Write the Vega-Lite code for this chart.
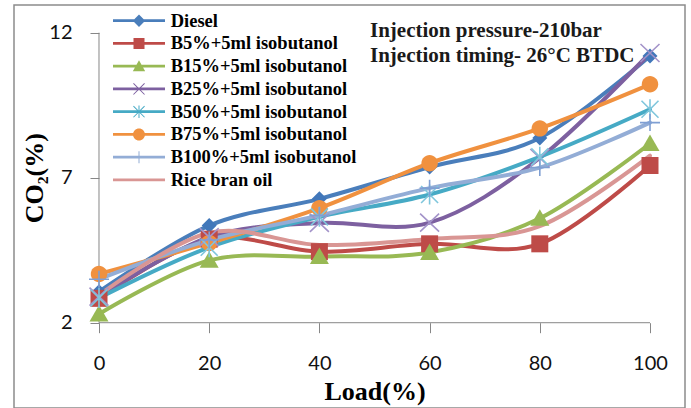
{
  "$schema": "https://vega.github.io/schema/vega-lite/v6.json",
  "width": 671,
  "height": 403,
  "autosize": {"type": "none"},
  "padding": {"left": 14, "top": 5, "right": 6, "bottom": 0},
  "background": "white",
  "config": {
    "view": {"stroke": "#8C8C8C", "strokeWidth": 1.5},
    "axis": {"grid": false}
  },
  "data": {
    "values": [
      {"series": "Diesel", "load": 0, "co2": 3.07},
      {"series": "Diesel", "load": 20, "co2": 5.35},
      {"series": "Diesel", "load": 40, "co2": 6.27},
      {"series": "Diesel", "load": 60, "co2": 7.37},
      {"series": "Diesel", "load": 80, "co2": 8.37},
      {"series": "Diesel", "load": 100, "co2": 11.2},
      {"series": "B5%+5ml isobutanol", "load": 0, "co2": 2.84},
      {"series": "B5%+5ml isobutanol", "load": 20, "co2": 4.88},
      {"series": "B5%+5ml isobutanol", "load": 40, "co2": 4.45},
      {"series": "B5%+5ml isobutanol", "load": 60, "co2": 4.72},
      {"series": "B5%+5ml isobutanol", "load": 80, "co2": 4.72},
      {"series": "B5%+5ml isobutanol", "load": 100, "co2": 7.42},
      {"series": "B15%+5ml isobutanol", "load": 0, "co2": 2.3},
      {"series": "B15%+5ml isobutanol", "load": 20, "co2": 4.15},
      {"series": "B15%+5ml isobutanol", "load": 40, "co2": 4.28},
      {"series": "B15%+5ml isobutanol", "load": 60, "co2": 4.42},
      {"series": "B15%+5ml isobutanol", "load": 80, "co2": 5.6},
      {"series": "B15%+5ml isobutanol", "load": 100, "co2": 8.18},
      {"series": "B25%+5ml isobutanol", "load": 0, "co2": 2.9},
      {"series": "B25%+5ml isobutanol", "load": 20, "co2": 4.95},
      {"series": "B25%+5ml isobutanol", "load": 40, "co2": 5.44},
      {"series": "B25%+5ml isobutanol", "load": 60, "co2": 5.45},
      {"series": "B25%+5ml isobutanol", "load": 80, "co2": 7.68},
      {"series": "B25%+5ml isobutanol", "load": 100, "co2": 11.3},
      {"series": "B50%+5ml isobutanol", "load": 0, "co2": 2.85},
      {"series": "B50%+5ml isobutanol", "load": 20, "co2": 4.6},
      {"series": "B50%+5ml isobutanol", "load": 40, "co2": 5.65},
      {"series": "B50%+5ml isobutanol", "load": 60, "co2": 6.42},
      {"series": "B50%+5ml isobutanol", "load": 80, "co2": 7.72},
      {"series": "B50%+5ml isobutanol", "load": 100, "co2": 9.36},
      {"series": "B75%+5ml isobutanol", "load": 0, "co2": 3.68},
      {"series": "B75%+5ml isobutanol", "load": 20, "co2": 4.75},
      {"series": "B75%+5ml isobutanol", "load": 40, "co2": 5.95},
      {"series": "B75%+5ml isobutanol", "load": 60, "co2": 7.5},
      {"series": "B75%+5ml isobutanol", "load": 80, "co2": 8.7},
      {"series": "B75%+5ml isobutanol", "load": 100, "co2": 10.22},
      {"series": "B100%+5ml isobutanol", "load": 0, "co2": 3.5},
      {"series": "B100%+5ml isobutanol", "load": 20, "co2": 4.85},
      {"series": "B100%+5ml isobutanol", "load": 40, "co2": 5.7},
      {"series": "B100%+5ml isobutanol", "load": 60, "co2": 6.64},
      {"series": "B100%+5ml isobutanol", "load": 80, "co2": 7.35},
      {"series": "B100%+5ml isobutanol", "load": 100, "co2": 8.9},
      {"series": "Rice bran oil", "load": 0, "co2": 2.95},
      {"series": "Rice bran oil", "load": 20, "co2": 5.1},
      {"series": "Rice bran oil", "load": 40, "co2": 4.68},
      {"series": "Rice bran oil", "load": 60, "co2": 4.89},
      {"series": "Rice bran oil", "load": 80, "co2": 5.33},
      {"series": "Rice bran oil", "load": 100, "co2": 7.76}
    ]
  },
  "layer": [
    {
      "data": {"values": [{}]},
      "mark": {"type": "rule", "color": "#878787", "strokeWidth": 1},
      "encoding": {
        "x": {"datum": 0, "type": "quantitative", "scale": {"domain": [-15.426, 106.352], "nice": false, "zero": false}},
        "x2": {"datum": 100},
        "y": {"datum": 2, "type": "quantitative", "scale": {"domain": [-0.941, 12.955], "nice": false, "zero": false}}
      }
    },
    {
      "data": {"values": [{}]},
      "mark": {"type": "rule", "color": "#878787", "strokeWidth": 1},
      "encoding": {
        "x": {"datum": 0, "type": "quantitative", "scale": {"domain": [-15.426, 106.352], "nice": false, "zero": false}},
        "y": {"datum": 2, "type": "quantitative", "scale": {"domain": [-0.941, 12.955], "nice": false, "zero": false}},
        "y2": {"datum": 12}
      }
    },
    {
      "mark": {"type": "line", "interpolate": "cardinal", "strokeWidth": 4, "strokeJoin": "round", "strokeCap": "round"},
      "encoding": {
        "x": {
          "field": "load", "type": "quantitative",
          "scale": {"domain": [-15.426, 106.352], "nice": false, "zero": false},
          "axis": {
            "values": [0, 20, 40, 60, 80, 100], "domain": false, "offset": -85.3,
            "tickSize": 10, "tickColor": "#878787", "tickWidth": 1,
            "labelPadding": 21, "labelFont": "Lato", "labelFontSize": 20, "labelColor": "#111111",
            "labelFlush": false, "labelOverlap": false, "labelBound": false,
            "title": "Load(%)", "titleFont": "Liberation Serif", "titleFontWeight": "bold", "titleFontSize": 26,
            "titleColor": "#000000", "titleX": 360.5, "titleY": 76.3, "titleAlign": "center", "titleBaseline": "alphabetic"
          }
        },
        "y": {
          "field": "co2", "type": "quantitative",
          "scale": {"domain": [-0.941, 12.955], "nice": false, "zero": false},
          "axis": {
            "values": [2, 7, 12], "domain": false, "offset": -85,
            "tickSize": 9, "tickColor": "#878787", "tickWidth": 1,
            "labelPadding": 18, "labelFont": "Lato", "labelFontSize": 20, "labelColor": "#111111",
            "labelFlush": false, "labelOverlap": false, "labelBound": false,
            "title": "CO₂(%)", "titleFont": "Liberation Serif", "titleFontWeight": "bold", "titleFontSize": 26,
            "titleColor": "#000000", "titleAngle": -90, "titleX": -57, "titleY": 172.7, "titleAlign": "center", "titleBaseline": "alphabetic"
          }
        },
        "color": {
          "field": "series", "type": "nominal",
          "scale": {
            "domain": ["Diesel", "B5%+5ml isobutanol", "B15%+5ml isobutanol", "B25%+5ml isobutanol", "B50%+5ml isobutanol", "B75%+5ml isobutanol", "B100%+5ml isobutanol", "Rice bran oil"],
            "range": ["#4A7EBB", "#BE4B48", "#98B954", "#7D60A0", "#46AAC5", "#F0913F", "#93ADD6", "#D99694"]
          },
          "legend": null
        }
      }
    },
    {
      "transform": [{"filter": {"field": "series", "oneOf": ["Diesel", "B5%+5ml isobutanol", "B15%+5ml isobutanol", "B75%+5ml isobutanol"]}}],
      "mark": {"type": "point", "filled": true, "opacity": 1, "size": 400, "strokeWidth": 0},
      "encoding": {
        "x": {"field": "load", "type": "quantitative"},
        "y": {"field": "co2", "type": "quantitative"},
        "color": {
          "field": "series", "type": "nominal",
          "scale": {
            "domain": ["Diesel", "B5%+5ml isobutanol", "B15%+5ml isobutanol", "B75%+5ml isobutanol"],
            "range": ["#4177BA", "#BE4B48", "#98B954", "#F0913F"]
          },
          "legend": null
        },
        "shape": {
          "field": "series", "type": "nominal",
          "scale": {
            "domain": ["Diesel", "B5%+5ml isobutanol", "B15%+5ml isobutanol", "B75%+5ml isobutanol"],
            "range": [
              "M0,-0.75L0.75,0L0,0.75L-0.75,0Z",
              "M-0.85,-0.85H0.85V0.85H-0.85Z",
              "M0,-0.9L0.95,0.75H-0.95Z",
              "M-0.82,0A0.82,0.82,0,1,1,0.82,0A0.82,0.82,0,1,1,-0.82,0Z"
            ]
          },
          "legend": null
        }
      }
    },
    {
      "transform": [{"filter": {"field": "series", "oneOf": ["B25%+5ml isobutanol", "B50%+5ml isobutanol", "B100%+5ml isobutanol"]}}],
      "mark": {"type": "point", "filled": false, "opacity": 1, "size": 400, "strokeWidth": 1.6},
      "encoding": {
        "x": {"field": "load", "type": "quantitative"},
        "y": {"field": "co2", "type": "quantitative"},
        "color": {
          "field": "series", "type": "nominal",
          "scale": {
            "domain": ["B25%+5ml isobutanol", "B50%+5ml isobutanol", "B100%+5ml isobutanol"],
            "range": ["#A393C9", "#7FC6DC", "#7F9FD3"]
          },
          "legend": null
        },
        "shape": {
          "field": "series", "type": "nominal",
          "scale": {
            "domain": ["B25%+5ml isobutanol", "B50%+5ml isobutanol", "B100%+5ml isobutanol"],
            "range": [
              "M-0.95,-0.9L0.95,0.9M-0.95,0.9L0.95,-0.9",
              "M-0.85,-0.85L0.85,0.85M-0.85,0.85L0.85,-0.85M0,-1L0,1",
              "M0,-0.85L0,0.85M-1,0L1,0"
            ]
          },
          "legend": null
        }
      }
    },
    {
      "transform": [{"filter": "datum.load < 0"}],
      "mark": {"type": "point", "filled": true, "opacity": 1, "size": 400},
      "encoding": {
        "x": {"field": "load", "type": "quantitative"},
        "y": {"field": "co2", "type": "quantitative"},
        "color": {
          "field": "series", "type": "nominal",
          "scale": {
            "domain": ["Diesel", "B5%+5ml isobutanol", "B15%+5ml isobutanol", "B25%+5ml isobutanol", "B50%+5ml isobutanol", "B75%+5ml isobutanol", "B100%+5ml isobutanol", "Rice bran oil"],
            "range": ["#4A7EBB", "#BE4B48", "#98B954", "#7D60A0", "#46AAC5", "#F0913F", "#93ADD6", "#D99694"]
          },
          "legend": {
            "orient": "none", "legendX": 115, "legendY": 5.7, "title": null, "padding": 0,
            "symbolSize": 400, "symbolStrokeWidth": 0, "symbolOpacity": 1,
            "labelFont": "Liberation Serif", "labelFontWeight": "bold", "labelFontSize": 18.5,
            "labelColor": "#000000", "labelOffset": 21.7, "labelLimit": 400, "rowPadding": 2.75
          }
        },
        "shape": {
          "field": "series", "type": "nominal",
          "scale": {
            "domain": ["Diesel", "B5%+5ml isobutanol", "B15%+5ml isobutanol", "B25%+5ml isobutanol", "B50%+5ml isobutanol", "B75%+5ml isobutanol", "B100%+5ml isobutanol", "Rice bran oil"],
            "range": [
              "M-2.6,-0.14H2.6V0.14H-2.6ZM0,-0.62L0.62,0L0,0.62L-0.62,0Z",
              "M-2.6,-0.14H2.6V0.14H-2.6ZM-0.55,-0.55H0.55V0.55H-0.55Z",
              "M-2.6,-0.14H2.6V0.14H-2.6ZM0,-0.6L0.62,0.5H-0.62Z",
              "M-2.6,-0.14H2.6V0.14H-2.6ZM-0.52,-0.59L0.59,0.52L0.52,0.59L-0.59,-0.52ZM0.52,-0.59L0.59,-0.52L-0.52,0.59L-0.59,0.52Z",
              "M-2.6,-0.14H2.6V0.14H-2.6ZM-0.52,-0.59L0.59,0.52L0.52,0.59L-0.59,-0.52ZM0.52,-0.59L0.59,-0.52L-0.52,0.59L-0.59,0.52ZM-0.05,-0.62H0.05V0.62H-0.05Z",
              "M-2.6,-0.14H2.6V0.14H-2.6ZM-0.6,0A0.6,0.6,0,1,1,0.6,0A0.6,0.6,0,1,1,-0.6,0Z",
              "M-2.6,-0.14H2.6V0.14H-2.6ZM-0.05,-0.6H0.05V0.6H-0.05Z",
              "M-2.6,-0.14H2.6V0.14H-2.6Z"
            ]
          },
          "legend": {
            "orient": "none", "legendX": 115, "legendY": 5.7, "title": null, "padding": 0,
            "symbolSize": 400, "symbolStrokeWidth": 0, "symbolOpacity": 1,
            "labelFont": "Liberation Serif", "labelFontWeight": "bold", "labelFontSize": 18.5,
            "labelColor": "#000000", "labelOffset": 21.7, "labelLimit": 400, "rowPadding": 2.75
          }
        }
      }
    },
    {
      "data": {"values": [{}]},
      "mark": {
        "type": "text",
        "align": "left", "baseline": "alphabetic", "lineHeight": 25,
        "font": "Liberation Serif", "fontSize": 21, "fontWeight": "bold", "color": "#1A1A1A"
      },
      "encoding": {
        "x": {"datum": 49.18, "type": "quantitative"},
        "y": {"datum": 11.862, "type": "quantitative"},
        "text": {"value": ["Injection pressure-210bar", "Injection timing- 26°C BTDC"]}
      }
    }
  ],
  "resolve": {"scale": {"color": "independent", "shape": "independent"}}
}
